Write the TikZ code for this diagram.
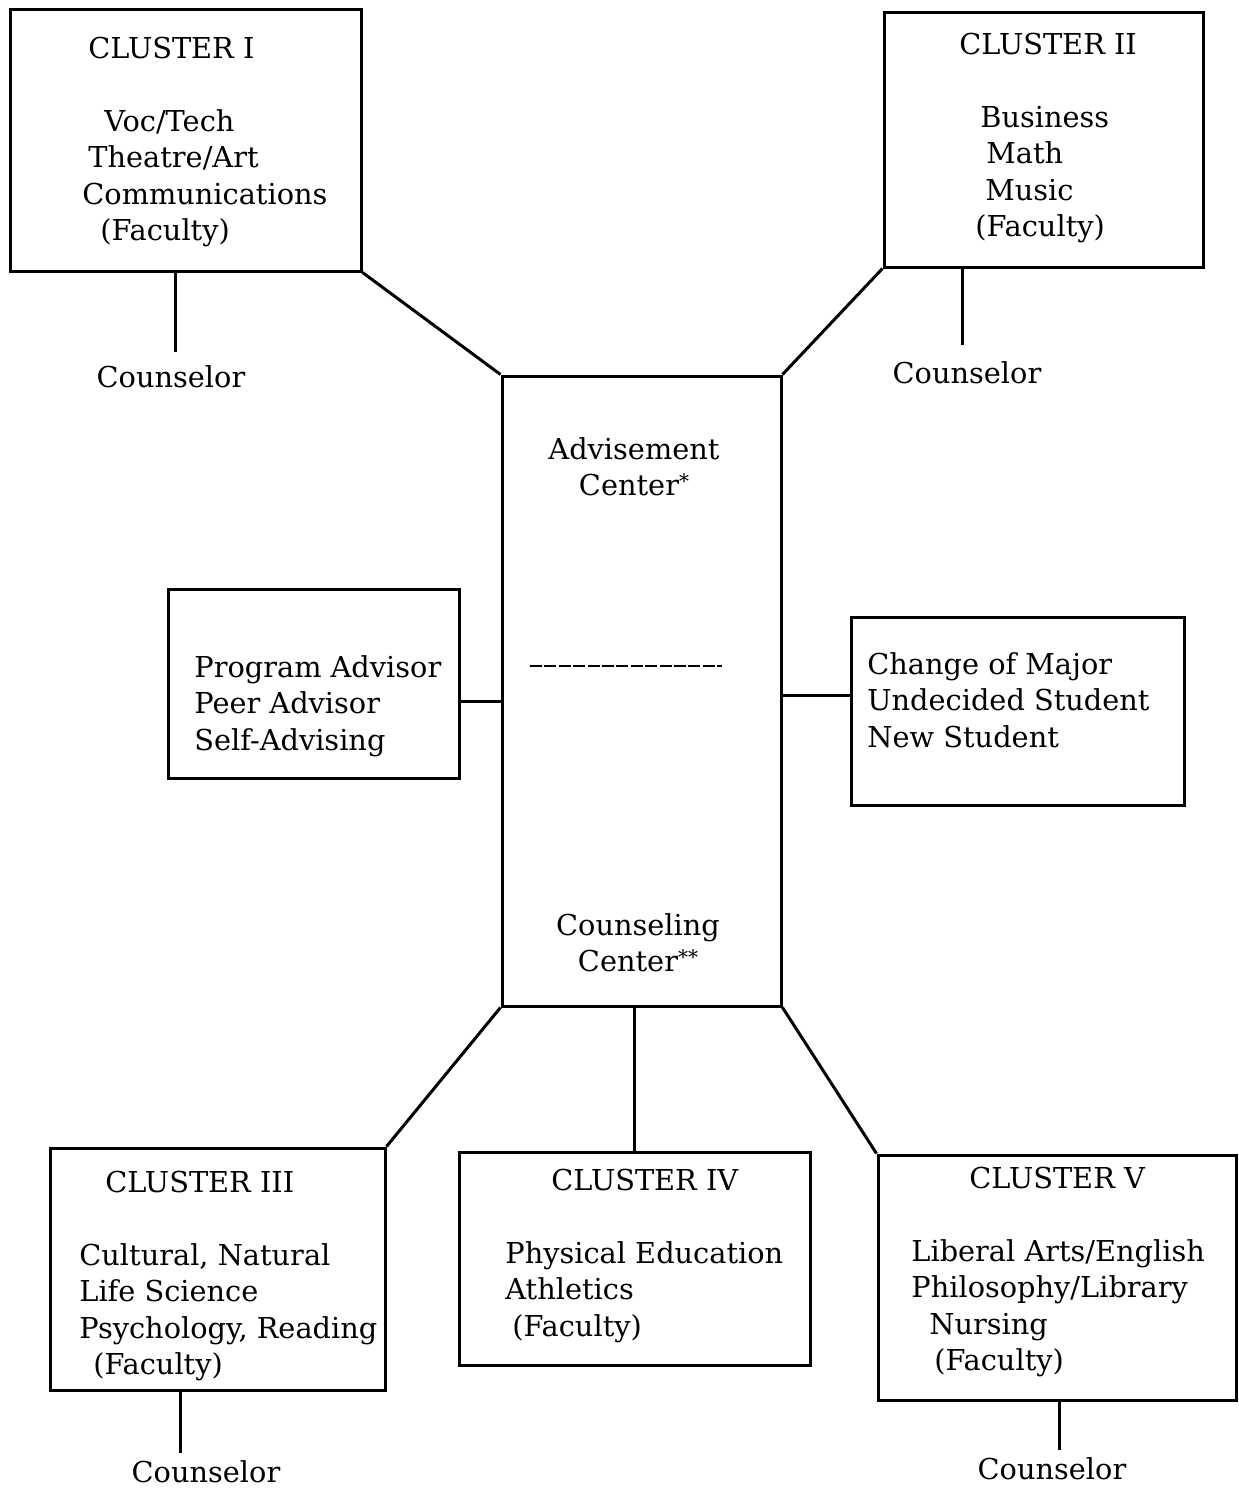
\documentclass[tikz,border=0pt]{standalone}
\usepackage{fontspec}
\setmainfont{DejaVu Serif}
\usepackage{tikz}

\tikzset{
  box/.style={draw, line width=1.5pt, inner sep=0pt},
  txt/.style={anchor=north west, inner sep=0pt, align=left, font=\fontsize{14.4}{18.25}\selectfont},
  ctxt/.style={anchor=north, inner sep=0pt, align=center, font=\fontsize{14.4}{18.25}\selectfont},
  cnsl/.style={inner sep=0.75pt, font=\fontsize{14.4}{18.25}\selectfont},
  link/.style={line width=1.5pt}
}
\newcommand{\starmark}[1]{\raisebox{3.5pt}{\fontsize{10}{10}\selectfont #1}}

\begin{document}
\begin{tikzpicture}[x=0.5pt,y=0.5pt,yscale=-1,xscale=1]
\useasboundingbox (0,0) rectangle (1238,1488);

%Shape: Rectangle (Cluster I)
\draw (185.5,140) node (clI) [box, minimum width=175.5pt, minimum height=131pt] {};
%Shape: Rectangle (Cluster II)
\draw (1043.5,139.5) node (clII) [box, minimum width=159.5pt, minimum height=127.5pt] {};
%Shape: Rectangle (centre)
\draw (641.5,691) node (adv) [box, minimum width=139.5pt, minimum height=315pt] {};
%Shape: Rectangle (advisors)
\draw (313.5,683.5) node (prog) [box, minimum width=145.5pt, minimum height=94.5pt] {};
%Shape: Rectangle (students)
\draw (1017.5,711) node (chg) [box, minimum width=166.5pt, minimum height=94pt] {};
%Shape: Rectangle (Cluster III)
\draw (217.5,1269) node (clIII) [box, minimum width=167.5pt, minimum height=121pt] {};
%Shape: Rectangle (Cluster IV)
\draw (634.5,1258.5) node (clIV) [box, minimum width=175.5pt, minimum height=106.5pt] {};
%Shape: Rectangle (Cluster V)
\draw (1057,1277.5) node (clV) [box, minimum width=179pt, minimum height=122.5pt] {};

%Shape: Dashed Line
\draw [dash pattern=on 6pt off 1.2pt, line width=1pt] (530,666) -- (722,666);

% Text Node
\draw (82,37) node (clItxt) [txt] {\hspace*{3pt}CLUSTER I\\[18pt]\hspace*{11pt}Voc/Tech\\\hspace*{3pt}Theatre/Art\\Communications\\\hspace*{9pt}(Faculty)};
% Text Node
\draw (959,33) node (clIItxt) [txt] {CLUSTER II\\[18pt]\hspace*{10.5pt}Business\\\hspace*{13.5pt}Math\\\hspace*{13pt}Music\\\hspace*{8pt}(Faculty)};
% Text Node
\draw (634,437) node (advtxt) [ctxt] {Advisement\\Center\starmark{*}};
% Text Node
\draw (638,913) node (cnstxt) [ctxt] {Counseling\\Center\starmark{**}};
% Text Node
\draw (194,655) node (progtxt) [txt] {Program Advisor\\Peer Advisor\\Self-Advising};
% Text Node
\draw (867,652) node (chgtxt) [txt] {Change of Major\\Undecided Student\\New Student};
% Text Node
\draw (79,1171) node (clIIItxt) [txt] {\hspace*{13pt}CLUSTER III\\[18pt]Cultural, Natural\\Life Science\\Psychology, Reading\\\hspace*{7pt}(Faculty)};
% Text Node
\draw (505,1169) node (clIVtxt) [txt] {\hspace*{23pt}CLUSTER IV\\[18pt]Physical Education\\Athletics\\\hspace*{3.5pt}(Faculty)};
% Text Node
\draw (911,1167) node (clVtxt) [txt] {\hspace*{29pt}CLUSTER V\\[18pt]Liberal Arts/English\\Philosophy/Library\\\hspace*{9pt}Nursing\\\hspace*{11.5pt}(Faculty)};

% Text Node
\draw (171,377) node (csI) [cnsl] {Counselor};
% Text Node
\draw (967,373) node (csII) [cnsl] {Counselor};
% Text Node
\draw (206,1472) node (csIII) [cnsl] {Counselor};
% Text Node
\draw (1052,1469) node (csV) [cnsl] {Counselor};

%Straight Lines
\draw [link] (clI.south east) -- (adv.north west);
\draw [link] (clII.south west) -- (adv.north east);
\draw [link] (clIII.north east) -- (adv.south west);
\draw [link] (clIV.north) -- (clIV.north |- adv.south);
\draw [link] (clV.north west) -- (adv.south east);
\draw [link] ([yshift=9pt]prog.east) -- ([yshift=9pt]prog.east -| adv.west);
\draw [link] ([yshift=-8pt]chg.west) -- ([yshift=-8pt]chg.west -| adv.east);

\draw [link] ([xshift=2pt]csI.north |- clI.south) -- ([xshift=2pt,yshift=-6pt]csI.north);
\draw [link] ([xshift=-2.5pt]csII.north |- clII.south) -- ([xshift=-2.5pt,yshift=-7.5pt]csII.north);
\draw [link] ([xshift=-13pt]csIII.north |- clIII.south) -- ([xshift=-13pt,yshift=-3pt]csIII.north);
\draw [link] ([xshift=3.5pt]csV.north |- clV.south) -- ([xshift=3.5pt,yshift=-3pt]csV.north);

\end{tikzpicture}
\end{document}
